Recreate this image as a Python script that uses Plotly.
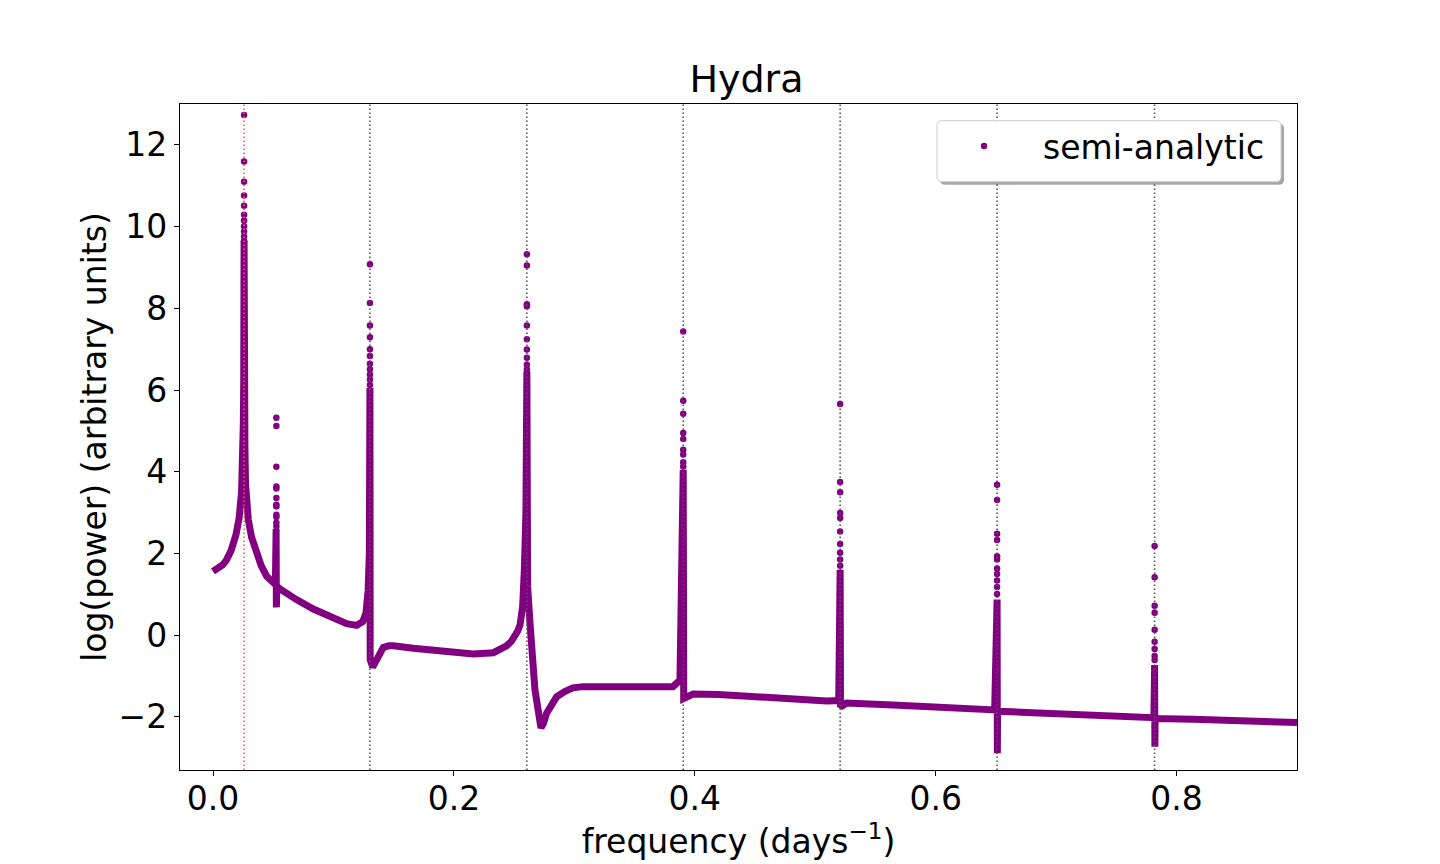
import plotly.graph_objects as go

# ---- data ----
# dense band (frequency in days^-1, log power)
freq_band = [0.000, 0.004, 0.008, 0.011, 0.015, 0.019, 0.0216, 0.0237, 0.0247, 0.0252,
             0.0255, 0.0258, 0.0261, 0.0265, 0.0270, 0.0280, 0.0293, 0.0320, 0.0363, 0.0400,
             0.0446, 0.0485, 0.0518, 0.0524, 0.0526, 0.0530, 0.0556, 0.0620, 0.0693, 0.0833,
             0.0971, 0.1110, 0.1193, 0.1243, 0.1270, 0.1288, 0.1298, 0.1303, 0.1305, 0.1326,
             0.1340, 0.1360, 0.1385, 0.1414, 0.1460, 0.1497, 0.1663, 0.1940, 0.2161, 0.2327,
             0.2438, 0.2480, 0.2507, 0.2530, 0.2549, 0.2571, 0.2585, 0.2598, 0.2606, 0.2612,
             0.2632, 0.2673, 0.2723, 0.2745, 0.2770, 0.2810, 0.2853, 0.2920, 0.2988, 0.3070,
             0.3155, 0.3462, 0.3819, 0.3877, 0.3904, 0.3908, 0.3932, 0.3986, 0.4195, 0.4540,
             0.4900, 0.5095, 0.5195, 0.5207, 0.5210, 0.5260, 0.5647, 0.6000, 0.6339, 0.6490,
             0.6510, 0.6512, 0.6514, 0.6755, 0.7308, 0.7696, 0.7812, 0.7818, 0.7820, 0.7822,
             0.8139, 0.8692, 0.9000]
logp_band = [1.56, 1.62, 1.72, 1.83, 2.07, 2.45, 2.85, 3.50, 4.30, 5.20,
             6.20, 9.65, 6.00, 4.60, 3.70, 3.20, 2.83, 2.40, 2.00, 1.70,
             1.44, 1.31, 1.24, 2.60, 0.68, 1.20, 1.13, 1.00, 0.87, 0.64,
             0.44, 0.28, 0.24, 0.33, 0.54, 1.10, 2.00, 6.05, -0.60, -0.78,
             -0.70, -0.52, -0.38, -0.30, -0.26, -0.26, -0.32, -0.40, -0.46, -0.43,
             -0.26, -0.14, -0.02, 0.10, 0.25, 0.70, 1.60, 3.00, 6.45, 1.20,
             0.29, -1.34, -2.27, -2.15, -1.91, -1.68, -1.51, -1.38, -1.29, -1.26,
             -1.26, -1.29, -1.26, -1.10, 4.05, -1.55, -1.51, -1.44, -1.45, -1.52,
             -1.58, -1.61, -1.60, 1.60, -1.76, -1.66, -1.71, -1.76, -1.81, -1.83,
             0.87, -2.89, -1.86, -1.89, -1.97, -2.01, -2.02, -0.73, -2.73, -2.04,
             -2.06, -2.11, -2.14]

# isolated points above the dense columns of each peak
peak_freqs = [0.0258, 0.0526, 0.1303, 0.2606, 0.3904, 0.5207, 0.6510, 0.7818]
peak_dots = [
    [12.73, 11.59, 11.10, 10.76, 10.51, 10.29, 10.15, 10.01, 9.88, 9.76, 9.65],
    [5.32, 5.12, 4.12, 3.64, 3.59, 3.36, 3.19, 3.15, 2.95, 2.89, 2.75, 2.66],
    [9.08, 8.13, 7.58, 7.29, 7.00, 6.83, 6.64, 6.51, 6.38, 6.26, 6.12],
    [9.32, 9.05, 8.10, 8.05, 7.58, 7.24, 6.99, 6.79, 6.62, 6.50],
    [7.43, 5.74, 5.42, 4.95, 4.80, 4.54, 4.42, 4.23, 4.13],
    [5.66, 3.75, 3.50, 2.99, 2.87, 2.54, 2.23, 2.02, 1.85, 1.70],
    [3.68, 3.31, 2.48, 2.33, 1.93, 1.85, 1.63, 1.50, 1.34, 1.18, 1.01],
    [2.18, 1.42, 0.72, 0.55, 0.13, -0.16, -0.34, -0.51, -0.61],
]

# reference frequencies marked with vertical dotted lines
hydra_freq = 0.0258
harmonic_freqs = [0.1303, 0.2606, 0.3904, 0.5207, 0.6510, 0.7818]

x_ticks = [0.0, 0.2, 0.4, 0.6, 0.8]
y_ticks = [-2, 0, 2, 4, 6, 8, 10, 12]

# ---- figure ----
PURPLE = "#800080"
FONT = "DejaVu Sans"

dot_x = []
dot_y = []
for f, ys in zip(peak_freqs, peak_dots):
    for y in ys:
        dot_x.append(f)
        dot_y.append(y)

fig = go.Figure()
fig.add_trace(go.Scatter(x=freq_band, y=logp_band, mode="lines",
                         line=dict(color=PURPLE, width=7), showlegend=False,
                         hoverinfo="skip"))
fig.add_trace(go.Scatter(x=dot_x, y=dot_y, mode="markers", name="semi-analytic",
                         marker=dict(color=PURPLE, size=6.5, line=dict(width=0))))

shapes = []
shapes.append(dict(type="line", xref="x", yref="paper", x0=hydra_freq, x1=hydra_freq,
                   y0=0, y1=1, layer="above",
                   line=dict(color="#ff5a3c", width=1.6, dash="1.6px,2.4px")))
for f in harmonic_freqs:
    shapes.append(dict(type="line", xref="x", yref="paper", x0=f, x1=f, y0=0, y1=1,
                       layer="above",
                       line=dict(color="#555555", width=1.6, dash="1.6px,2.4px")))


def rounded_rect(x0, y0, x1, y1, rx, ry):
    return (f"M {x0+rx},{y0} L {x1-rx},{y0} Q {x1},{y0} {x1},{y0+ry} "
            f"L {x1},{y1-ry} Q {x1},{y1} {x1-rx},{y1} L {x0+rx},{y1} "
            f"Q {x0},{y1} {x0},{y1-ry} L {x0},{y0+ry} Q {x0},{y0} {x0+rx},{y0} Z")


lx0, lx1, ly0, ly1 = 0.6777, 0.9857, 0.8833, 0.9749
rx, ry = 0.0045, 0.0075
shapes.append(dict(type="path", xref="paper", yref="paper", layer="above",
                   path=rounded_rect(lx0 + 0.0027, ly0 - 0.0045, lx1 + 0.0027, ly1 - 0.0045, rx, ry),
                   fillcolor="rgba(0,0,0,0.35)", line=dict(width=0)))
shapes.append(dict(type="path", xref="paper", yref="paper", layer="above",
                   path=rounded_rect(lx0, ly0, lx1, ly1, rx, ry),
                   fillcolor="white", line=dict(color="#cccccc", width=1)))

fig.update_layout(
    width=1440, height=864,
    margin=dict(l=172, r=151, t=96, b=102),
    paper_bgcolor="white", plot_bgcolor="white",
    font=dict(family=FONT, color="black", size=33),
    title=dict(text="Hydra", x=0.5128, xanchor="center", y=0.918, yanchor="middle",
               yref="container", font=dict(family=FONT, size=38, color="black")),
    shapes=shapes,
    showlegend=True,
    legend=dict(x=0.6670, xanchor="left", y=0.937, yanchor="middle",
                bgcolor="rgba(0,0,0,0)", borderwidth=0, itemwidth=108,
                font=dict(family=FONT, size=33, color="black")),
)
fig.update_xaxes(range=[-0.0274, 0.9], tickvals=x_ticks, tickformat=".1f",
                 showgrid=False, zeroline=False, showline=True, linecolor="black",
                 linewidth=1.3, mirror=True, ticks="outside", ticklen=5, tickwidth=1.3,
                 tickcolor="black", tickfont=dict(family=FONT, size=33),
                 ticklabelstandoff=-6,
                 title=dict(text="frequency (days<sup>−1</sup>)", standoff=0,
                            font=dict(family=FONT, size=33)))
fig.update_yaxes(range=[-3.30, 13.0], tickvals=y_ticks,
                 showgrid=False, zeroline=False, showline=True, linecolor="black",
                 linewidth=1.3, mirror=True, ticks="outside", ticklen=5, tickwidth=1.3,
                 tickcolor="black", tickfont=dict(family=FONT, size=33),
                 title=dict(text="log(power) (arbitrary units)", standoff=2,
                            font=dict(family=FONT, size=33)))

fig.write_html("out.html")
